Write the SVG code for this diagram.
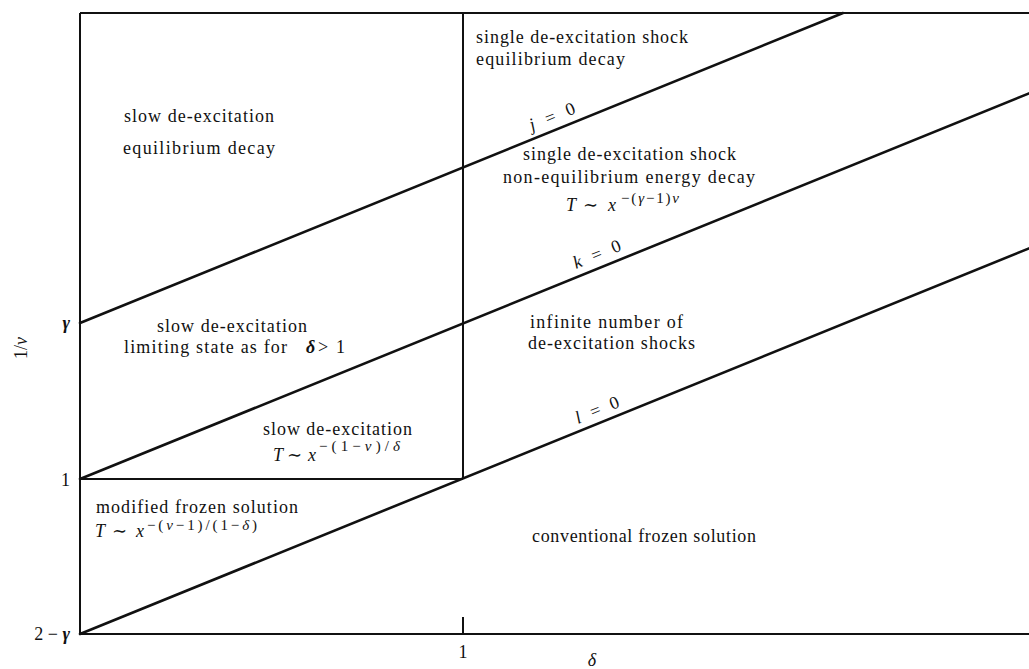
<svg xmlns="http://www.w3.org/2000/svg" width="1029" height="669" viewBox="0 0 1029 669">
<style>
text{font-family:'Liberation Serif','DejaVu Serif',serif;fill:#111;font-size:18px}
.it{font-style:italic}
.sup{font-size:15px}
.ax{stroke:#111;stroke-width:2;fill:none}
.bd{stroke:#111;stroke-width:2.6;fill:none;stroke-linecap:round}
.mid{text-anchor:middle}
</style>
<rect width="1029" height="669" fill="#fff"/>
<g id="frame">
<path class="ax" d="M80,13 H1029 M80,13 V634 H1029 M463,13 V479 M80,479 H463 M463,617 V634"/>
</g>
<g id="connectors">
<line class="bd" x1="80" y1="323" x2="843" y2="13"/>
<line class="bd" x1="80" y1="479" x2="1029" y2="93.4"/>
<line class="bd" x1="80" y1="634" x2="1029" y2="248.4"/>
</g>
<g id="line-labels">
<text font-size="20" transform="translate(532,131) rotate(-22.1)" textLength="48" lengthAdjust="spacing"><tspan class="it">j</tspan> = 0</text>
<text font-size="20" transform="translate(576,269) rotate(-22.1)" textLength="50" lengthAdjust="spacing"><tspan class="it">k</tspan> = 0</text>
<text font-size="20" transform="translate(578,424) rotate(-22.1)" textLength="46" lengthAdjust="spacing"><tspan class="it">l</tspan> = 0</text>
</g>
<g id="region-slow-eq">
<text x="124" y="122" textLength="150" lengthAdjust="spacing">slow de-excitation</text>
<text x="123" y="154" textLength="152" lengthAdjust="spacing">equilibrium decay</text>
</g>
<g id="region-single-eq">
<text x="476" y="43" textLength="212" lengthAdjust="spacing">single de-excitation shock</text>
<text x="476" y="65" textLength="149" lengthAdjust="spacing">equilibrium decay</text>
</g>
<g id="region-single-noneq">
<text x="523" y="160" textLength="213" lengthAdjust="spacing">single de-excitation shock</text>
<text x="503" y="183" textLength="252" lengthAdjust="spacing">non-equilibrium energy decay</text>
<text y="211" font-size="21"><tspan x="566" class="it">T</tspan><tspan x="583">∼</tspan><tspan x="608" class="it">x</tspan></text>
<text x="621" y="203" class="sup" textLength="58" lengthAdjust="spacing">−(<tspan class="it">γ</tspan>−1)<tspan class="it">ν</tspan></text>
</g>
<g id="region-infinite">
<text x="530" y="328" textLength="153" lengthAdjust="spacing">infinite number of</text>
<text x="528" y="349" textLength="167" lengthAdjust="spacing">de-excitation shocks</text>
</g>
<g id="region-conventional">
<text x="532" y="542" textLength="224" lengthAdjust="spacing">conventional frozen solution</text>
</g>
<g id="region-slow-limiting">
<text x="157" y="332" textLength="150" lengthAdjust="spacing">slow de-excitation</text>
<text x="124" y="353" textLength="163" lengthAdjust="spacing">limiting state as for</text>
<text y="353"><tspan x="306" class="it" font-weight="bold">δ</tspan><tspan x="318">&gt;</tspan><tspan x="336">1</tspan></text>
</g>
<g id="region-slow-decay">
<text x="263" y="435" textLength="149" lengthAdjust="spacing">slow de-excitation</text>
<text y="461" font-size="21"><tspan x="273" class="it">T</tspan><tspan x="287">∼</tspan><tspan x="308" class="it">x</tspan></text>
<text x="319" y="451" class="sup" textLength="81" lengthAdjust="spacing">−(1−<tspan class="it">ν</tspan>)/<tspan class="it">δ</tspan></text>
</g>
<g id="region-modified">
<text x="96" y="513" textLength="202" lengthAdjust="spacing">modified frozen solution</text>
<text y="537" font-size="21"><tspan x="95" class="it">T</tspan><tspan x="112">∼</tspan><tspan x="136" class="it">x</tspan></text>
<text x="147" y="530" class="sup" textLength="110" lengthAdjust="spacing">−(<tspan class="it">ν</tspan>−1)/(1−<tspan class="it">δ</tspan>)</text>
</g>
<g id="axes-labels">
<text x="70" y="329" text-anchor="end" class="it" font-weight="bold">γ</text>
<text x="70" y="486" text-anchor="end">1</text>
<text x="70" y="640" text-anchor="end">2 − <tspan class="it" font-weight="bold">γ</tspan></text>
<text x="463" y="658" class="mid">1</text>
<text x="592" y="666" font-size="17" class="mid it">δ</text>
<text transform="translate(27,348) rotate(-90)" font-size="17" class="mid">1/<tspan class="it">ν</tspan></text>
</g>
</svg>
